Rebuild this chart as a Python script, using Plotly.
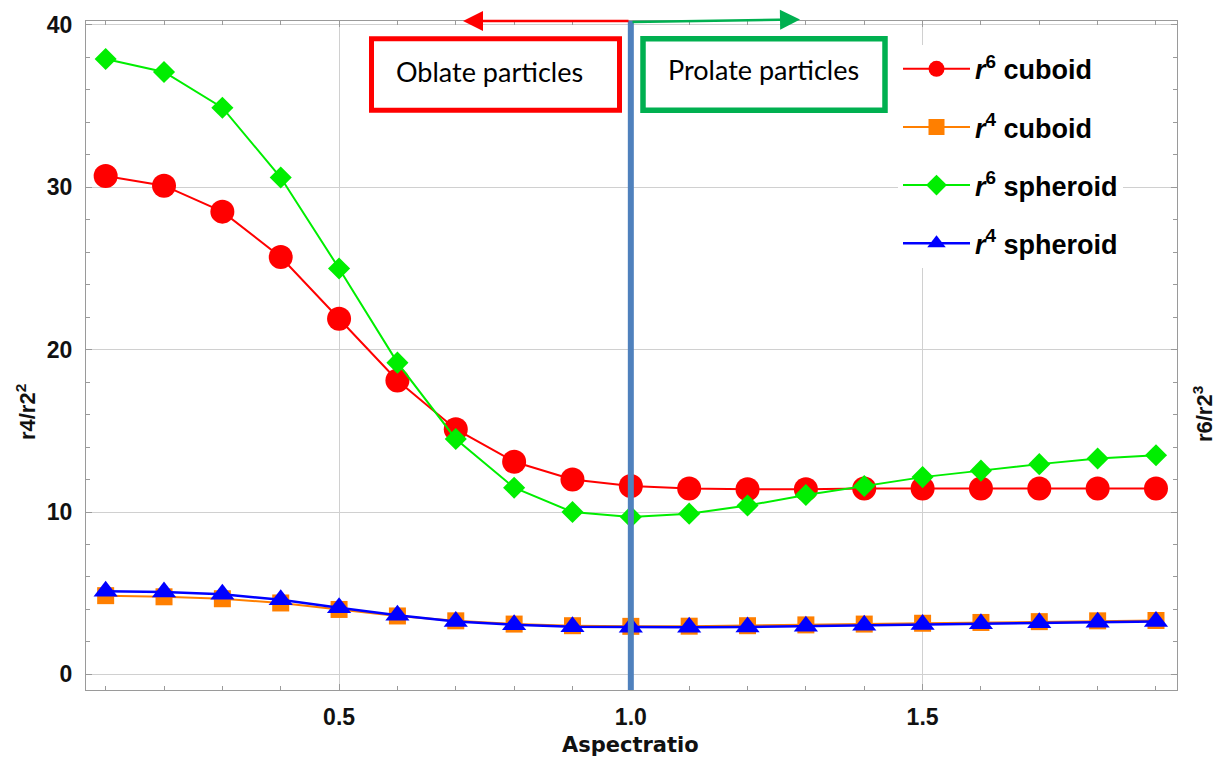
import plotly.graph_objects as go

# Aspect ratio sampling
aspect = [0.1, 0.2, 0.3, 0.4, 0.5, 0.6, 0.7, 0.8, 0.9, 1.0,
          1.1, 1.2, 1.3, 1.4, 1.5, 1.6, 1.7, 1.8, 1.9]

# Moment ratios
r6_cuboid = [30.7, 30.1, 28.5, 25.7, 21.9, 18.1, 15.1, 13.1, 12.0, 11.6,
             11.45, 11.4, 11.4, 11.45, 11.45, 11.45, 11.45, 11.45, 11.45]
r4_cuboid = [4.85, 4.78, 4.66, 4.4, 4.0, 3.6, 3.3, 3.1, 3.0, 2.96,
             2.97, 3.0, 3.05, 3.1, 3.15, 3.2, 3.25, 3.3, 3.32]
r6_spheroid = [37.9, 37.1, 34.9, 30.6, 25.0, 19.2, 14.5, 11.5, 10.0, 9.7,
               9.9, 10.4, 11.05, 11.6, 12.15, 12.55, 12.95, 13.3, 13.5]
r4_spheroid = [5.12, 5.08, 4.94, 4.6, 4.1, 3.64, 3.26, 3.06, 2.94, 2.9,
               2.9, 2.92, 2.97, 3.02, 3.08, 3.12, 3.18, 3.22, 3.26]

series_names = ["<b><i>r</i><sup>6</sup> cuboid</b>",
                "<b><i>r</i><sup>4</sup> cuboid</b>",
                "<b><i>r</i><sup>6</sup> spheroid</b>",
                "<b><i>r</i><sup>4</sup> spheroid</b>"]
y_ticks = [0, 10, 20, 30, 40]
x_ticks = [0.5, 1.0, 1.5]

W, H = 1221, 764
L, R, T, B = 86, 1177, 16, 690


def px(x):
    return (x - L) / (R - L)


def py(y):
    return (B - y) / (B - T)


fig = go.Figure()
styles = [
    (r6_cuboid, "#ff0000", "circle", 24, 2),
    (r4_cuboid, "#ff7f00", "square", 17, 2),
    (r6_spheroid, "#00ee00", "diamond", 17, 2),
    (r4_spheroid, "#0000ff", "triangle-up", 21, 2.5),
]
for i, (vals, col, sym, size, lw) in enumerate(styles):
    fig.add_trace(go.Scatter(
        x=aspect, y=vals, mode="lines+markers", name=series_names[i],
        legendgroup=f"g{i}",
        line=dict(color=col, width=lw),
        marker=dict(symbol=sym, size=size, color=col, line=dict(width=0)),
    ))

frame = "#9a9a9a"
tick_font = dict(family="Liberation Sans", size=23, color="#111111")
axis_common = dict(
    showline=True, linecolor=frame, linewidth=1, mirror="ticks",
    ticks="inside", ticklen=6, tickcolor=frame, tickwidth=1,
    showgrid=True, gridcolor="#d0d0d0", gridwidth=1, zeroline=False,
    tickfont=tick_font,
)
fig.update_xaxes(
    range=[0.0663, 1.936], tickvals=x_ticks,
    ticktext=["<b>0.5</b>", "<b>1.0</b>", "<b>1.5</b>"],
    minor=dict(dtick=0.1, tick0=0, ticks="inside", ticklen=4,
               tickcolor=frame, showgrid=False),
    ticklabelstandoff=6, **axis_common)
fig.update_yaxes(
    range=[-0.96, 40.24], tickvals=y_ticks,
    ticktext=[f"<b>{v}</b>" for v in y_ticks],
    minor=dict(dtick=2, tick0=0, ticks="inside", ticklen=4,
               tickcolor=frame, showgrid=False),
    ticklabelstandoff=8, **axis_common)

# Boundary between oblate and prolate shapes
fig.add_shape(type="line", xref="x", yref="paper", x0=1.0, x1=1.0, y0=0, y1=1,
              line=dict(color="#4f81bd", width=6), layer="above")

# Labelled boxes
fig.add_shape(type="rect", xref="paper", yref="paper",
              x0=px(371.5), x1=px(619.5), y0=py(106), y1=py(34),
              line=dict(color="#ff0000", width=5), fillcolor="white", layer="above")
fig.add_shape(type="rect", xref="paper", yref="paper",
              x0=px(643), x1=px(885), y0=py(106), y1=py(34),
              line=dict(color="#00b050", width=5.5), fillcolor="white", layer="above")

box_font = dict(family="Lato", size=27, color="#000000")
title_font = dict(family="Liberation Sans", size=22, color="#111111")
annotations = [
    dict(text="Oblate particles", x=px(489), y=py(67), xref="paper", yref="paper",
         showarrow=False, font=box_font, xanchor="center", yanchor="middle"),
    dict(text="Prolate particles", x=px(763), y=py(65), xref="paper", yref="paper",
         showarrow=False, font=box_font, xanchor="center", yanchor="middle"),
    # direction arrows along the top frame
    dict(x=px(463), y=py(16), xref="paper", yref="paper", ax=167, ay=0,
         axref="pixel", ayref="pixel", text="", showarrow=True,
         arrowhead=2, arrowsize=1.6, arrowwidth=2.5, arrowcolor="#ff0000"),
    dict(x=px(800), y=py(14.5), xref="paper", yref="paper", ax=-169, ay=2.5,
         axref="pixel", ayref="pixel", text="", showarrow=True,
         arrowhead=2, arrowsize=1.6, arrowwidth=2.5, arrowcolor="#00b050"),
    # axis titles
    dict(text="<b>Aspectratio</b>", x=px(630), y=py(745), xref="paper", yref="paper",
         showarrow=False, font=dict(family="DejaVu Sans", size=21, color="#111111"),
         xanchor="center", yanchor="middle"),
    dict(text="<b>r4/r2<sup>2</sup></b>", x=px(26), y=py(410), xref="paper", yref="paper",
         showarrow=False, textangle=-90, font=title_font,
         xanchor="center", yanchor="middle"),
    dict(text="<b>r6/r2<sup>3</sup></b>", x=px(1203), y=py(412), xref="paper", yref="paper",
         showarrow=False, textangle=-90, font=title_font,
         xanchor="center", yanchor="middle"),
]

fig.update_layout(
    width=W, height=H,
    margin=dict(l=L, r=W - R, t=T, b=H - B),
    paper_bgcolor="white", plot_bgcolor="white",
    annotations=annotations,
    legend=dict(x=px(898), y=py(40), xanchor="left", yanchor="top",
                bgcolor="white", borderwidth=0, tracegroupgap=20,
                font=dict(family="Liberation Sans", size=27, color="#000000"),
                itemwidth=67),
    showlegend=True,
)

fig.write_html("out.html")
